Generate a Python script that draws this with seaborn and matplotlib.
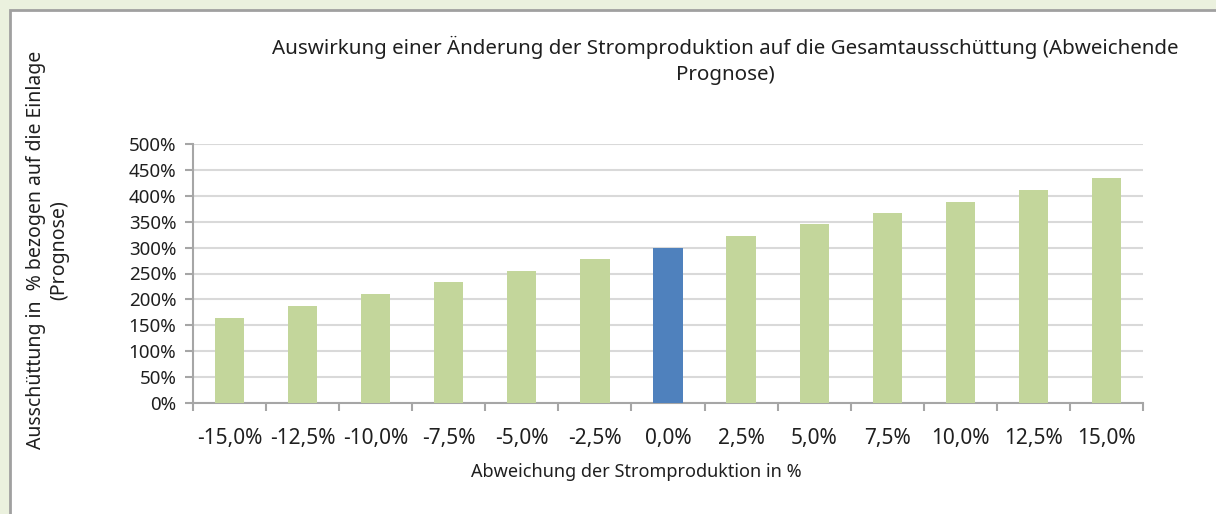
import matplotlib
matplotlib.use("Agg")
import matplotlib.pyplot as plt
import seaborn as sns
import numpy as np
from matplotlib.patches import Rectangle
from matplotlib.ticker import FixedLocator, PercentFormatter

categories = ["-15,0%", "-12,5%", "-10,0%", "-7,5%", "-5,0%", "-2,5%", "0,0%",
              "2,5%", "5,0%", "7,5%", "10,0%", "12,5%", "15,0%"]
values = [164, 188, 210, 233, 255, 278, 300, 322, 345, 367, 388, 411, 434]
highlight = "0,0%"

title = "Auswirkung einer Änderung der Stromproduktion auf die Gesamtausschüttung (Abweichende\nPrognose)"
xlabel = "Abweichung der Stromproduktion in %"
ylabel = "Ausschüttung in  % bezogen auf die Einlage\n(Prognose)"

GREEN = "#C3D69B"
BLUE = "#4F81BD"
GRID = "#D9D9D9"
AXC = "#A6A6A6"
TXT = "#1F1F1F"

sns.set_theme(style="white")
plt.rcParams["font.family"] = ["Noto Sans", "DejaVu Sans"]

fig = plt.figure(figsize=(12.16, 5.14), dpi=100, facecolor="#EBF1DE")
W, H = 1216, 514
fig.patches.append(Rectangle((10 / W, -0.01), 1.01, 1 - 10 / H + 0.01, transform=fig.transFigure,
                             facecolor="white", edgecolor="#A0A0A0", linewidth=2, zorder=-10))

ax = fig.add_axes([193 / W, 1 - 403 / H, (1143 - 193) / W, (403 - 144) / H])
ax.set_zorder(5)
ax.set_facecolor("none")

palette = {c: (BLUE if c == highlight else GREEN) for c in categories}
sns.barplot(x=categories, y=values, hue=categories, palette=palette, order=categories,
            width=0.4, legend=False, ax=ax, saturation=1, zorder=3, linewidth=0)

ax.set_ylim(0, 500)
ax.set_xlim(-0.5, len(categories) - 0.5)
ax.set_yticks(np.arange(0, 501, 50))
ax.yaxis.set_major_formatter(PercentFormatter(decimals=0))
ax.yaxis.grid(True, color=GRID, linewidth=1.5, zorder=0)
ax.set_axisbelow(True)

for s in ["top", "right"]:
    ax.spines[s].set_visible(False)
ax.spines["left"].set_color(AXC)
ax.spines["bottom"].set_color(AXC)
ax.spines["left"].set_linewidth(1.5)
ax.spines["bottom"].set_linewidth(1.5)

ax.xaxis.set_minor_locator(FixedLocator(np.arange(-0.5, len(categories), 1.0)))
ax.tick_params(axis="x", which="major", length=0, pad=18, labelsize=15, colors=TXT)
ax.tick_params(axis="x", which="minor", length=6, width=1.5, color=AXC, direction="out", bottom=True)
ax.tick_params(axis="y", which="major", length=6, width=1.5, color=AXC, direction="out",
               labelsize=13.5, labelcolor=TXT, left=True, pad=6)

ax.set_xlabel("")
ax.set_ylabel("")
fig.text(636 / W, 1 - 472 / H, xlabel, ha="center", va="center", fontsize=13, color=TXT)
fig.text(48 / W, 1 - 250 / H, ylabel, rotation=90, ha="center", va="center",
         fontsize=14, color=TXT, multialignment="center", linespacing=1.2)
fig.text(725 / W, 1 - 60 / H, title, ha="center", va="center", fontsize=14.8, color=TXT,
         multialignment="center", linespacing=1.4)

fig.savefig("out.png", dpi=100, facecolor=fig.get_facecolor())
